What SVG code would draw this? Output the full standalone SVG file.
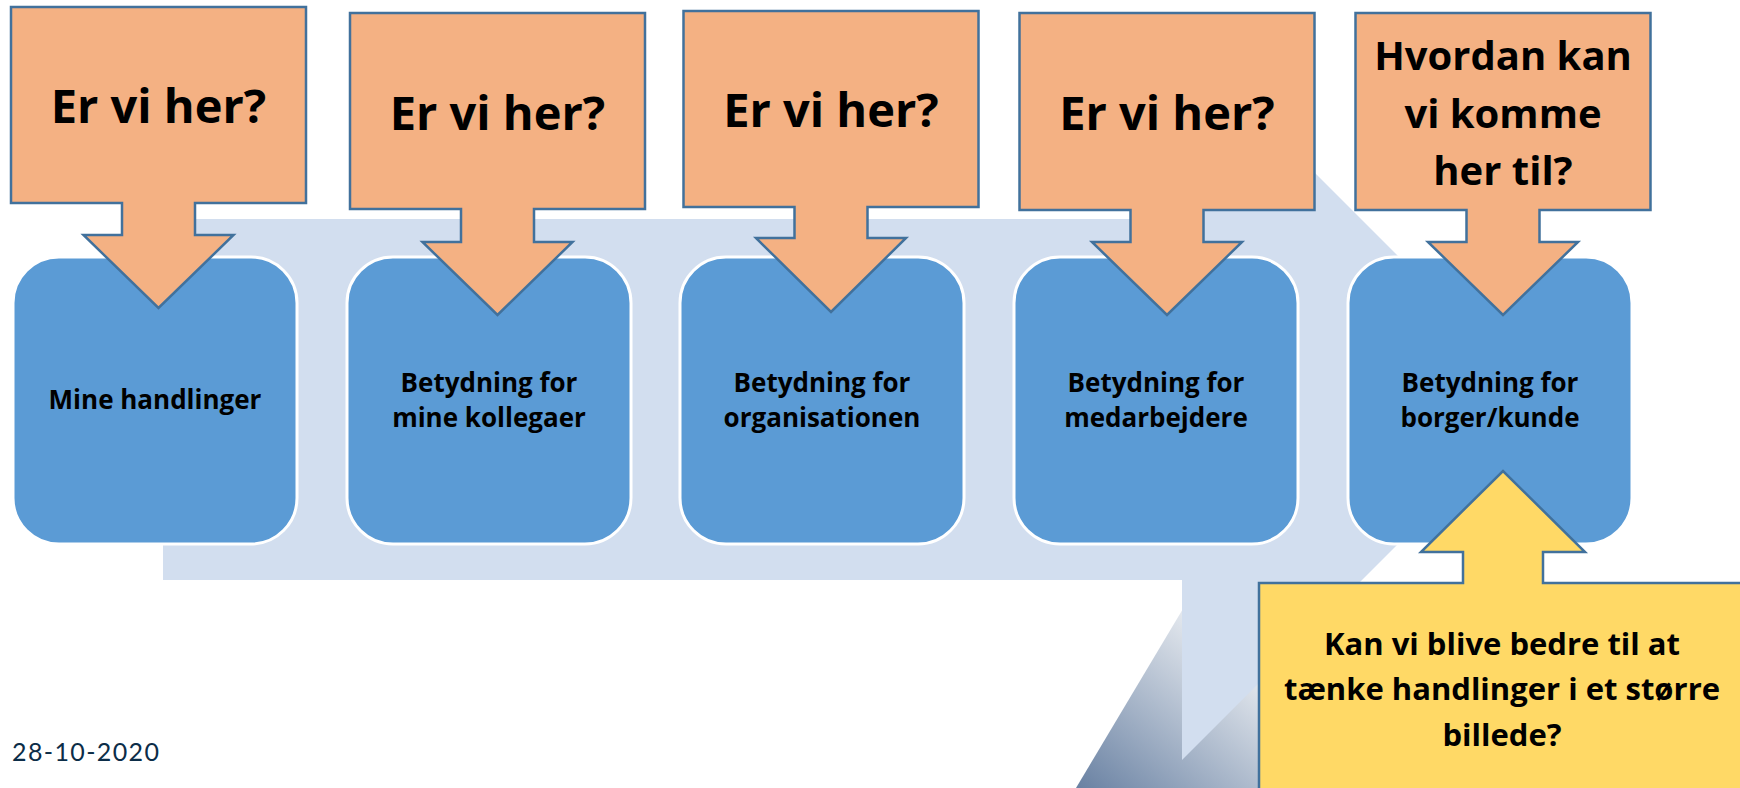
<svg xmlns="http://www.w3.org/2000/svg" width="1740" height="788" viewBox="0 0 1740 788">
<defs>
<style>
.step{fill:#5B9BD5;stroke:#FFFFFF;stroke-width:3}
.q{fill:#F4B183;stroke:#41719C;stroke-width:2.5}
.y{fill:#FFD966;stroke:#41719C;stroke-width:2.5}
.t{font-family:"Open Sans","Noto Sans",sans-serif;font-weight:700;fill:#000000;text-anchor:middle}
.big{font-size:47px}
.mid{font-size:40px}
.box{font-size:26px}
.yt{font-size:31px}
.date{font-family:"Lato","Open Sans",sans-serif;font-size:25px;fill:#0C2D48}
</style>
<linearGradient id="shade" gradientUnits="userSpaceOnUse" x1="1080" y1="788" x2="1240" y2="600">
<stop offset="0" stop-color="#6A82A3"/>
<stop offset="1" stop-color="#FFFFFF"/>
</linearGradient>
</defs>
<rect width="1740" height="788" fill="#FFFFFF"/>
<g id="decor">
<polygon points="1236,520 1076,788 1300,788 1300,520" fill="url(#shade)"/>
</g>
<g id="connectors">
<path d="M163,219 H1182 V40 L1542,400 L1182,760 V580 H163 Z" fill="#D2DEEF"/>
</g>
<g id="step1"><rect class="step" x="13" y="257" width="284" height="287" rx="46"/><text class="t box" x="155" y="409">Mine handlinger</text></g>
<g id="step2"><rect class="step" x="347" y="257" width="284" height="287" rx="46"/><text class="t box" x="489" y="392">Betydning for</text><text class="t box" x="489" y="427">mine kollegaer</text></g>
<g id="step3"><rect class="step" x="680" y="257" width="284" height="287" rx="46"/><text class="t box" x="822" y="392">Betydning for</text><text class="t box" x="822" y="427">organisationen</text></g>
<g id="step4"><rect class="step" x="1014" y="257" width="284" height="287" rx="46"/><text class="t box" x="1156" y="392">Betydning for</text><text class="t box" x="1156" y="427">medarbejdere</text></g>
<g id="step5"><rect class="step" x="1348" y="257" width="284" height="287" rx="46"/><text class="t box" x="1490" y="392">Betydning for</text><text class="t box" x="1490" y="427">borger/kunde</text></g>
<g id="callout1"><path class="q" d="M11,7 H306 V203 H195 V235 H233.5 L158.5,308 L83.5,235 H122 V203 H11 Z"/><text class="t big" x="158.5" y="123">Er vi her?</text></g>
<g id="callout2"><path class="q" d="M350,13 H645 V209 H534 V242 H572.5 L497.5,315 L422.5,242 H461 V209 H350 Z"/><text class="t big" x="497.5" y="130">Er vi her?</text></g>
<g id="callout3"><path class="q" d="M683.5,11 H978.5 V207 H867.5 V238 H906 L831,312 L756,238 H794.5 V207 H683.5 Z"/><text class="t big" x="831" y="127">Er vi her?</text></g>
<g id="callout4"><path class="q" d="M1019.5,13 H1314.5 V210 H1203.5 V242 H1242 L1167,315 L1092,242 H1130.5 V210 H1019.5 Z"/><text class="t big" x="1167" y="130">Er vi her?</text></g>
<g id="callout5"><path class="q" d="M1355.5,13 H1650.5 V210 H1539.5 V242 H1578 L1503,315 L1428,242 H1466.5 V210 H1355.5 Z"/><text class="t mid" x="1503" y="70">Hvordan kan</text><text class="t mid" x="1503" y="128">vi komme</text><text class="t mid" x="1503" y="185">her til?</text></g>
<g id="question"><path class="y" d="M1259,583 H1463 V552 H1421 L1503,471 L1585,552 H1543 V583 H1745 V795 H1259 Z"/><text class="t yt" x="1502" y="655">Kan vi blive bedre til at</text><text class="t yt" x="1502" y="700">tænke handlinger i et større</text><text class="t yt" x="1502" y="746">billede?</text></g>
<g id="footer"><text class="date" x="12" y="761" textLength="147" lengthAdjust="spacing">28-10-2020</text></g>
</svg>
